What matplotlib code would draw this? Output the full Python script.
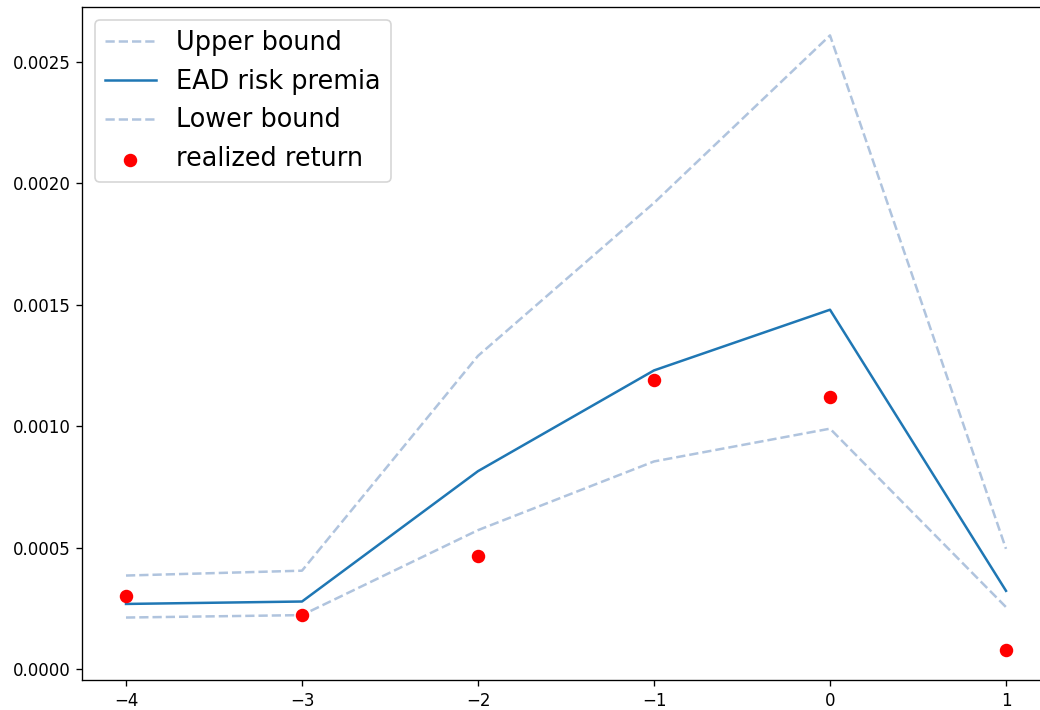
import matplotlib
matplotlib.use("Agg")
import matplotlib.pyplot as plt

# event window
dias = [-4, -3, -2, -1, 0, 1]

# valores
limite_superior = [0.000385, 0.000405, 0.00129, 0.00192, 0.00261, 0.000495]
prima_ead = [0.000268, 0.000278, 0.000815, 0.00123, 0.00148, 0.000322]
limite_inferior = [0.000212, 0.000222, 0.000572, 0.000855, 0.00099, 0.000255]
retorno_real = [0.000302, 0.000222, 0.000465, 0.00119, 0.00112, 0.000080]

fig = plt.figure(figsize=(1040 / 120, 710 / 120), dpi=120)
# el borde derecho queda fuera de la imagen, como en el original
ax = fig.add_axes([82 / 1040, 30 / 710, 968 / 1040, 673 / 710])

ax.plot(dias, limite_superior, "--", color="lightsteelblue", label="Upper bound")
ax.plot(dias, prima_ead, "-", color="#1f77b4", label="EAD risk premia")
ax.plot(dias, limite_inferior, "--", color="lightsteelblue", label="Lower bound")
ax.scatter(dias, retorno_real, color="red", s=50, zorder=3, label="realized return")

ax.set_xlim(-4.25, 1.25)
ax.set_ylim(-0.0000453, 0.002727)
ax.set_xticks(dias)
ax.set_yticks([0.0, 0.0005, 0.0010, 0.0015, 0.0020, 0.0025])
ax.set_yticklabels(["0.0000", "0.0005", "0.0010", "0.0015", "0.0020", "0.0025"])

ax.legend(loc="upper left", fontsize=15.3)

fig.savefig("out.png", dpi=120)
